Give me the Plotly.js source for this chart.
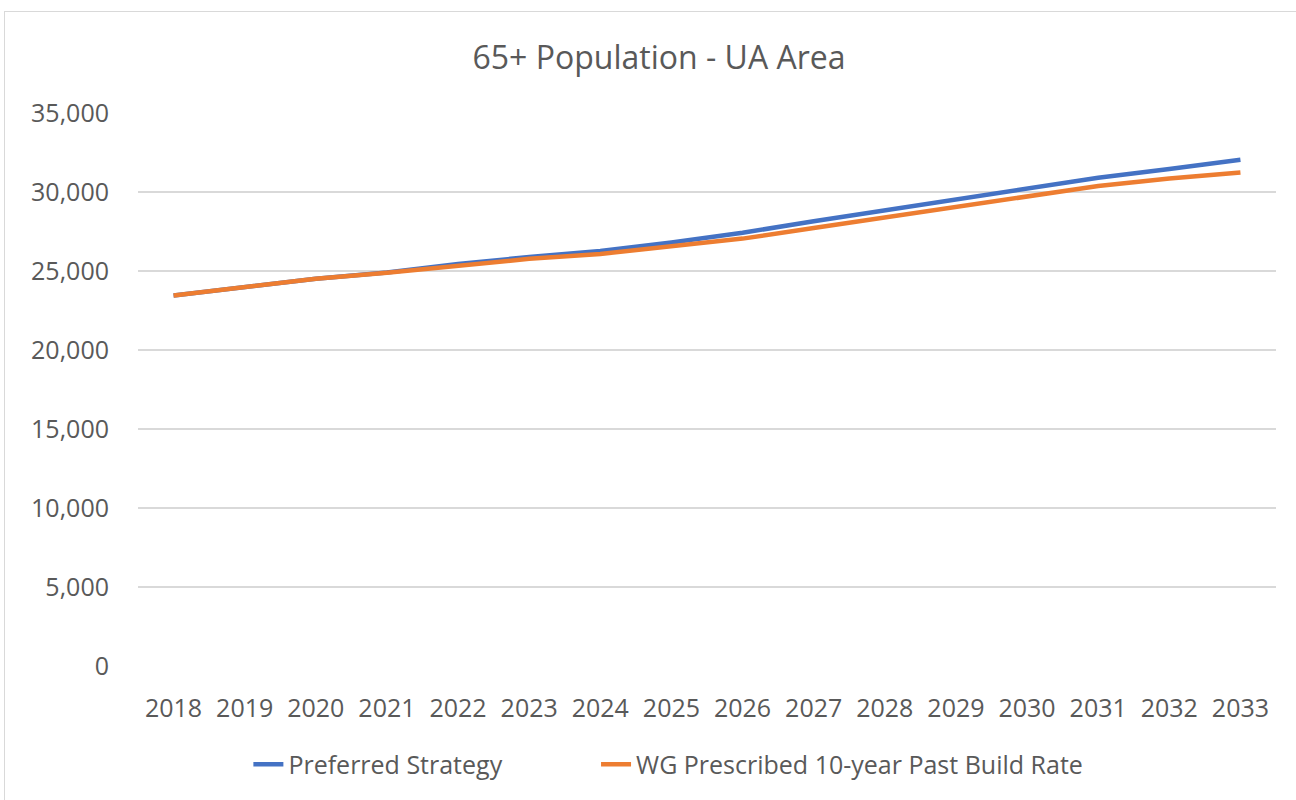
<!DOCTYPE html>
<html>
<head>
<meta charset="utf-8">
<script src="https://cdn.plot.ly/plotly-3.0.1.min.js"></script>
<style>
  html, body { margin: 0; padding: 0; background: #fff; overflow: hidden; }
  #chart { position: absolute; left: 0; top: 0; width: 1296px; height: 800px; }
  #frame { position: absolute; left: 4px; top: 11px; width: 1320px; height: 820px;
           border: 1px solid #d9d9d9; pointer-events: none; }
</style>
</head>
<body>
<div id="chart"></div>
<div id="frame"></div>
<script>
const years = ["2018","2019","2020","2021","2022","2023","2024","2025","2026","2027","2028","2029","2030","2031","2032","2033"];
const preferredStrategy = [23450, 23990, 24510, 24900, 25450, 25880, 26270, 26800, 27420, 28150, 28820, 29540, 30200, 30900, 31460, 32040];
const wgPastBuildRate   = [23450, 23990, 24510, 24890, 25350, 25770, 26080, 26550, 27050, 27720, 28400, 29010, 29720, 30380, 30850, 31240];
const seriesNames = ["Preferred Strategy", "WG Prescribed 10-year Past Build Rate"];
const yTicks = [0, 5000, 10000, 15000, 20000, 25000, 30000, 35000];

const font = "Open Sans, Liberation Sans, sans-serif";
const traces = [
  { x: years, y: preferredStrategy, name: seriesNames[0], type: "scatter", mode: "lines",
    line: { color: "#4472C4", width: 4.5 }, legend: "legend" },
  { x: years, y: wgPastBuildRate, name: seriesNames[1], type: "scatter", mode: "lines",
    line: { color: "#ED7D31", width: 4.5 }, legend: "legend2" }
];
const legendBase = { orientation: "h", y: -0.178, yanchor: "middle", xanchor: "left",
                     font: { size: 25, color: "#595959" }, bgcolor: "rgba(0,0,0,0)" };
const layout = {
  width: 1296, height: 800,
  margin: { l: 138, r: 20, t: 113, b: 132 },
  paper_bgcolor: "#fff", plot_bgcolor: "#fff",
  font: { family: font, color: "#595959", size: 24 },
  title: { text: "65+ Population - UA Area", x: 0.5085, xanchor: "center", y: 0.928, yanchor: "middle",
           font: { family: font, size: 32, color: "#595959" } },
  xaxis: { type: "category", range: [-0.5, 15.5], showgrid: false, zeroline: false,
           showline: false, ticks: "", tickfont: { size: 25 }, ticklabelstandoff: 25 },
  yaxis: { range: [0, 35000], tickvals: yTicks, tickformat: ",d", showgrid: true, gridcolor: "#d9d9d9",
           gridwidth: 1.3, zeroline: false, showline: false, ticks: "", tickfont: { size: 25 },
           ticklabelstandoff: 28 },
  showlegend: true,
  legend: Object.assign({}, legendBase, { x: 0.097 }),
  legend2: Object.assign({}, legendBase, { x: 0.4025 }),
  hovermode: false
};
Plotly.newPlot("chart", traces, layout, { displayModeBar: false, staticPlot: true });
</script>
</body>
</html>
